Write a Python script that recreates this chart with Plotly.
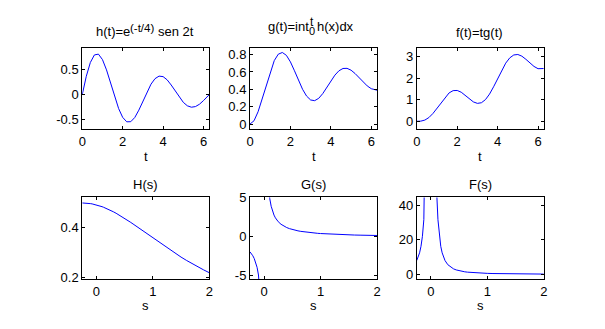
import plotly.graph_objects as go

# ---------------- data ----------------
t_vals = [0, 0.2, 0.4, 0.6, 0.8, 1.0, 1.2, 1.4, 1.6, 1.8, 2.0, 2.2, 2.4, 2.6, 2.8, 3.0,
          3.2, 3.4, 3.6, 3.8, 4.0, 4.2, 4.4, 4.6, 4.8, 5.0, 5.2, 5.4, 5.6, 5.8, 6.0, 6.2, 6.2832]
h_vals = [0, 0.3704, 0.6491, 0.8022, 0.8184, 0.7082, 0.5004, 0.2361, -0.0391, -0.2821,
          -0.4590, -0.5490, -0.5467, -0.4612, -0.3135, -0.1320, 0.0523, 0.2112, 0.3227,
          0.3743, 0.3640, 0.2990, 0.1947, 0.0706, -0.0525, -0.1559, -0.2256, -0.2543,
          -0.2417, -0.1939, -0.1197, -0.0351, 0.0]
g_vals = [0, 0.0382, 0.1420, 0.2894, 0.4537, 0.6083, 0.7304, 0.8047, 0.8241, 0.7912,
          0.7157, 0.6134, 0.5023, 0.4003, 0.3220, 0.2771, 0.2694, 0.2964, 0.3507, 0.4214,
          0.4963, 0.5633, 0.6133, 0.6399, 0.6416, 0.6203, 0.5815, 0.5328, 0.4831, 0.4392,
          0.4070, 0.3914, 0.3900]
f_vals = [0, 0.0076, 0.0568, 0.1736, 0.3630, 0.6083, 0.8765, 1.1266, 1.3186, 1.4242,
          1.4314, 1.3495, 1.2055, 1.0408, 0.9016, 0.8313, 0.8621, 1.0078, 1.2625, 1.6013,
          1.9852, 2.3659, 2.6985, 2.9435, 3.0797, 3.1015, 3.0238, 2.8771, 2.7054, 2.5474,
          2.4420, 2.4267, 2.4505]

s_vals = [-0.25, -0.225, -0.2, -0.175, -0.15, -0.125, -0.1, -0.075, -0.05, 0,
          0.05, 0.075, 0.1, 0.125, 0.15, 0.175, 0.2, 0.25, 0.3, 0.35, 0.4, 0.45, 0.5,
          0.55, 0.6, 0.65, 0.7, 0.75, 0.8, 0.85, 0.9, 0.95, 1.0, 1.1, 1.2, 1.3, 1.4,
          1.5, 1.6, 1.7, 1.8, 1.9, 2.0]
H_vals = [0.5, 0.49992, 0.49969, 0.4993, 0.49875, 0.49805, 0.4972, 0.4962, 0.49505, 0.49231,
          0.489, 0.48714, 0.48514, 0.48302, 0.48077, 0.4784, 0.47591, 0.47059, 0.46485,
          0.45872, 0.45223, 0.44543, 0.43836, 0.43103, 0.4235, 0.4158, 0.40796, 0.4,
          0.39196, 0.38388, 0.37576, 0.36765, 0.35955, 0.3435, 0.32773, 0.31238, 0.29751,
          0.28319, 0.26945, 0.25633, 0.24383, 0.23195, 0.22069]
G_vals = [-2.0, -2.2219, -2.4985, -2.8531, -3.325, -3.9844, -4.972, -6.616, -9.901, None,
          9.78, 6.4952, 4.8514, 3.8642, 3.2051, 2.7337, 2.3796, 1.8824, 1.5495, 1.3106,
          1.1306, 0.9898, 0.8767, 0.7837, 0.7058, 0.6397, 0.5828, 0.5333, 0.49, 0.4516,
          0.4175, 0.387, 0.3596, 0.3123, 0.2731, 0.2403, 0.2125, 0.1888, 0.1684, 0.1508,
          0.1355, 0.1221, 0.1103]
F_vals = [8.0, 9.847, 12.43, 16.2, 22.0, 31.63, 49.35, 87.64, 197.0, None,
          197.0, 87.63, 49.34, 31.61, 21.98, 16.18, 12.41, 7.97, 5.56, 4.11, 3.16, 2.51,
          2.04, 1.70, 1.43, 1.22, 1.06, 0.92, 0.81, 0.72, 0.64, 0.58, 0.52, 0.43, 0.357,
          0.301, 0.256, 0.219, 0.189, 0.164, 0.143, 0.125, 0.110]

t_ticks = [0, 2, 4, 6]
s_ticks = [0, 1, 2]
h_ticks = [-0.5, 0, 0.5]
h_ticktext = ["-0.5", "0", "0.5"]
g_ticks = [0, 0.2, 0.4, 0.6, 0.8]
g_ticktext = ["0", "0.2", "0.4", "0.6", "0.8"]
f_ticks = [0, 1, 2, 3]
H_ticks = [0.2, 0.4]
H_ticktext = ["0.2", "0.4"]
G_ticks = [-5, 0, 5]
G_ticktext = ["-5", "0", "5"]
F_ticks = [0, 20, 40]

# ---------------- layout helpers ----------------
W, Hh = 605, 329
FONT = "Liberation Sans, Arial, sans-serif"

def px(x):
    return x / W

def py(y):
    return 1 - y / Hh

cols = [(79.3, 208.0), (249.3, 378.0), (418.3, 547.0)]
rows = [(42.3, 127.3), (198.3, 283.3)]

fig = go.Figure()

panels = [
    (t_vals, h_vals, 0, 0, [0, 6.2832], [-0.7, 0.95], t_ticks, h_ticks, h_ticktext),
    (t_vals, g_vals, 0, 1, [0, 6.2832], [-0.06, 0.88], t_ticks, g_ticks, g_ticktext),
    (t_vals, f_vals, 0, 2, [0, 6.2832], [-0.37, 3.42], t_ticks, f_ticks, None),
    (s_vals, H_vals, 1, 0, [-0.25, 2], [0.195, 0.522], s_ticks, H_ticks, H_ticktext),
    (s_vals, G_vals, 1, 1, [-0.25, 2], [-5.5, 5], s_ticks, G_ticks, G_ticktext),
    (s_vals, F_vals, 1, 2, [-0.25, 2], [-2.8, 44.5], s_ticks, F_ticks, None),
]

axis_common = dict(
    showline=True, linecolor="black", linewidth=1, mirror="ticks",
    ticks="inside", ticklen=3, tickcolor="black", tickwidth=1,
    showgrid=False, zeroline=False,
    tickfont=dict(family=FONT, size=13, color="black"),
)

for i, (xs, ys, r, c, xr, yr, xt, yt, ytt) in enumerate(panels):
    n = i + 1
    xa = "x" if n == 1 else f"x{n}"
    ya = "y" if n == 1 else f"y{n}"
    fig.add_trace(go.Scatter(x=xs, y=ys, mode="lines", xaxis=xa, yaxis=ya,
                             line=dict(color="#0000ff", width=1),
                             connectgaps=False, showlegend=False, hoverinfo="skip"))
    x0, x1 = cols[c]
    y0, y1 = rows[r]
    xkey = "xaxis" if n == 1 else f"xaxis{n}"
    ykey = "yaxis" if n == 1 else f"yaxis{n}"
    xd = dict(axis_common, domain=[px(x0), px(x1)], range=xr, tickvals=xt,
              anchor=ya)
    yd = dict(axis_common, domain=[py(y1), py(y0)], range=yr, tickvals=yt,
              anchor=xa)
    if ytt is not None:
        yd["ticktext"] = ytt
    fig.update_layout(**{xkey: xd, ykey: yd})

ann = []

def add(text, x, y, size=13, xanchor="center"):
    ann.append(dict(text=text, x=px(x), y=py(y), xref="paper", yref="paper",
                    xanchor=xanchor, yanchor="middle", showarrow=False,
                    borderpad=0, borderwidth=0,
                    font=dict(family=FONT, size=size, color="black")))

# top-left title: h(t)=e^(-t/4) sen 2t
add("h(t)=e", 127.5, 25.8, xanchor="right")
add("(-t/4)", 127.8, 22.0, size=11.5, xanchor="left")
add("sen 2t", 156.5, 25.8, xanchor="left")
# top-middle title: g(t)=int_0^t h(x)dx
add("g(t)=int", 309.5, 19.8, xanchor="right")
add("t", 309.6, 15.8, size=12, xanchor="left")
add("0", 309.4, 25.4, size=11, xanchor="left")
add("h(x)dx", 317.0, 19.8, xanchor="left")
# top-right title
add("f(t)=tg(t)", 481.7, 26.5)
# bottom titles
add("H(s)", 143.6, 184.3)
add("G(s)", 313.6, 184.3)
add("F(s)", 482.6, 184.3)
# x labels
for (x0, x1) in cols:
    add("t", (x0 + x1) / 2, 155.3)
    add("s", (x0 + x1) / 2, 311.2)

fig.update_layout(
    width=W, height=Hh,
    margin=dict(l=0, r=0, t=0, b=0),
    paper_bgcolor="white", plot_bgcolor="white",
    annotations=ann,
    showlegend=False,
)

fig.write_html("out.html")
